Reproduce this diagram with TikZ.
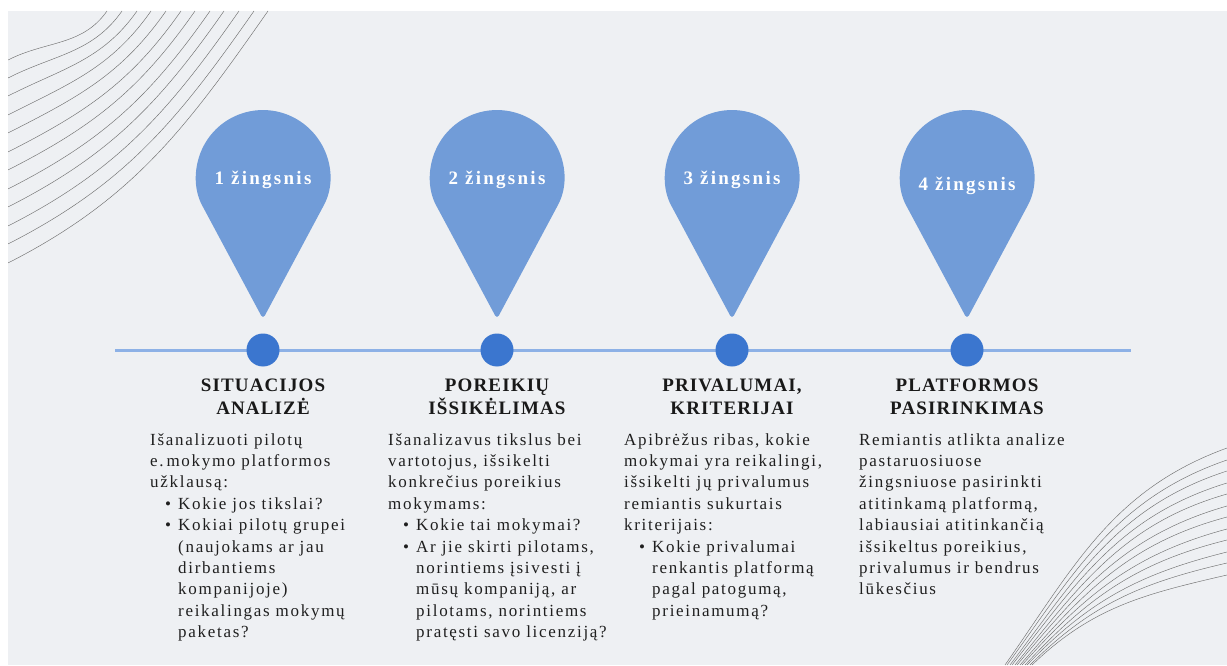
\documentclass[tikz,border=0pt]{standalone}
\usepackage{fontspec}
\setmainfont{Liberation Serif}
\definecolor{bgcol}{HTML}{EEF0F3}
\definecolor{pincol}{HTML}{719CD8}
\definecolor{dotcol}{HTML}{3B76CF}
\definecolor{linecol}{HTML}{8DB1E6}
\definecolor{decocol}{HTML}{707070}
\newcommand{\itembul}{\hspace*{15pt}\makebox[13pt][l]{•}}
\newcommand{\itemind}{\hspace*{28pt}}
\tikzset{
  pinshape/.style={fill=pincol, rounded corners=4pt},
  pintxt/.style={text=white, anchor=base, font=\fontsize{19}{21}\selectfont\bfseries\addfontfeatures{LetterSpace=12}},
  dotnode/.style={circle, fill=dotcol, minimum size=33pt, inner sep=0pt},
  timeline/.style={draw=linecol, line width=3pt},
  headtxt/.style={align=center, anchor=base, inner sep=0pt, text=black!90, font=\fontsize{19}{23}\selectfont\bfseries\addfontfeatures{LetterSpace=6}},
  bodytxt/.style={align=left, anchor=base west, inner sep=0pt, text=black!88, font=\fontsize{17}{21.4}\selectfont\addfontfeatures{LetterSpace=10}},
  deco/.style={draw=decocol, line width=0.45pt},
}

\begin{document}
\begin{tikzpicture}[x=1pt,y=1pt]
    \useasboundingbox (0,0) rectangle (1227,-666);
    \fill[bgcol] (8,-11) rectangle (1227,-665);
    \begin{scope}
    \clip (8,-11) rectangle (1227,-665);
    %lines top left
    \draw[deco] (8,-60) to[out=27,in=-125] (107,-11);
    \draw[deco] (8,-78) to[out=27,in=-125] (122,-11);
    \draw[deco] (8,-96) to[out=27,in=-125] (137,-11);
    \draw[deco] (8,-115) to[out=27,in=-125] (151,-11);
    \draw[deco] (8,-133) to[out=27,in=-125] (166,-11);
    \draw[deco] (8,-152) to[out=27,in=-125] (181,-11);
    \draw[deco] (8,-170) to[out=27,in=-125] (195,-11);
    \draw[deco] (8,-189) to[out=27,in=-125] (210,-11);
    \draw[deco] (8,-207) to[out=27,in=-125] (224,-11);
    \draw[deco] (8,-226) to[out=27,in=-125] (239,-11);
    \draw[deco] (8,-244) to[out=27,in=-125] (254,-11);
    \draw[deco] (8,-263) to[out=27,in=-125] (268,-11);
    %lines bottom right
    \draw[deco] (1005,-665) to[out=55,in=200] (1227,-448);
    \draw[deco] (1007,-665) to[out=54,in=199] (1227,-460);
    \draw[deco] (1010,-665) to[out=53,in=198] (1227,-471);
    \draw[deco] (1012,-665) to[out=52,in=197] (1227,-483);
    \draw[deco] (1015,-665) to[out=51,in=196] (1227,-494);
    \draw[deco] (1017,-665) to[out=50,in=196] (1227,-506);
    \draw[deco] (1020,-665) to[out=49,in=195] (1227,-517);
    \draw[deco] (1022,-665) to[out=48,in=195] (1227,-529);
    \draw[deco] (1025,-665) to[out=47,in=194] (1227,-540);
    \draw[deco] (1027,-665) to[out=46,in=194] (1227,-552);
    \draw[deco] (1030,-665) to[out=45,in=193] (1227,-563);
    \draw[deco] (1032,-665) to[out=44,in=193] (1227,-575);
    \end{scope}

    %pins
    \fill[pinshape] (263,-319) -- (322,-208.7) arc[start angle=-28.2, end angle=208.2, radius=67] -- cycle;
    \fill[pinshape] (497,-319) -- (556,-208.7) arc[start angle=-28.2, end angle=208.2, radius=67] -- cycle;
    \fill[pinshape] (732,-319) -- (791,-208.7) arc[start angle=-28.2, end angle=208.2, radius=67] -- cycle;
    \fill[pinshape] (967,-319) -- (1026,-208.7) arc[start angle=-28.2, end angle=208.2, radius=67] -- cycle;
    \node[pintxt] (pin1) at (263,-185) {1 žingsnis};
    \node[pintxt] (pin2) at (497,-185) {2 žingsnis};
    \node[pintxt] (pin3) at (732,-185) {3 žingsnis};
    \node[pintxt] (pin4) at (967,-190) {4 žingsnis};

    %timeline
    \coordinate (tlL) at (115,-350);
    \coordinate (tlR) at (1131,-350);
    \draw[timeline] (tlL) -- (tlR);
    \node[dotnode] (dot1) at (263,-350) {};
    \node[dotnode] (dot2) at (497,-350) {};
    \node[dotnode] (dot3) at (732,-350) {};
    \node[dotnode] (dot4) at (967,-350) {};

    %headings (anchor on last line)
    \node[headtxt] (head1) at (263,-414) {SITUACIJOS\\ANALIZĖ};
    \node[headtxt] (head2) at (497,-414) {POREIKIŲ\\IŠSIKĖLIMAS};
    \node[headtxt] (head3) at (732,-414) {PRIVALUMAI,\\KRITERIJAI};
    \node[headtxt] (head4) at (967,-414) {PLATFORMOS\\PASIRINKIMAS};

    %texts (anchor on last line)
    \node[bodytxt] (body1) at (150,-637.6) {Išanalizuoti pilotų\\e.\,mokymo platformos\\užklausą:\\
      \itembul Kokie jos tikslai?\\\itembul Kokiai pilotų grupei\\\itemind(naujokams ar jau\\\itemind dirbantiems\\\itemind kompanijoje)\\\itemind reikalingas mokymų\\\itemind paketas?};
    \node[bodytxt] (body2) at (388,-637.6) {Išanalizavus tikslus bei\\vartotojus, išsikelti\\konkrečius poreikius\\mokymams:\\
      \itembul Kokie tai mokymai?\\\itembul Ar jie skirti pilotams,\\\itemind norintiems įsivesti į\\\itemind mūsų kompaniją, ar\\\itemind pilotams, norintiems\\\itemind pratęsti savo licenziją?};
    \node[bodytxt] (body3) at (624,-616.2) {Apibrėžus ribas, kokie\\mokymai yra reikalingi,\\išsikelti jų privalumus\\remiantis sukurtais\\kriterijais:\\
      \itembul Kokie privalumai\\\itemind renkantis platformą\\\itemind pagal patogumą,\\\itemind prieinamumą?};
    \node[bodytxt] (body4) at (859,-594.8) {Remiantis atlikta analize\\pastaruosiuose\\žingsniuose pasirinkti\\atitinkamą platformą,\\labiausiai atitinkančią\\išsikeltus poreikius,\\privalumus ir bendrus\\lūkesčius};
\end{tikzpicture}
\end{document}
